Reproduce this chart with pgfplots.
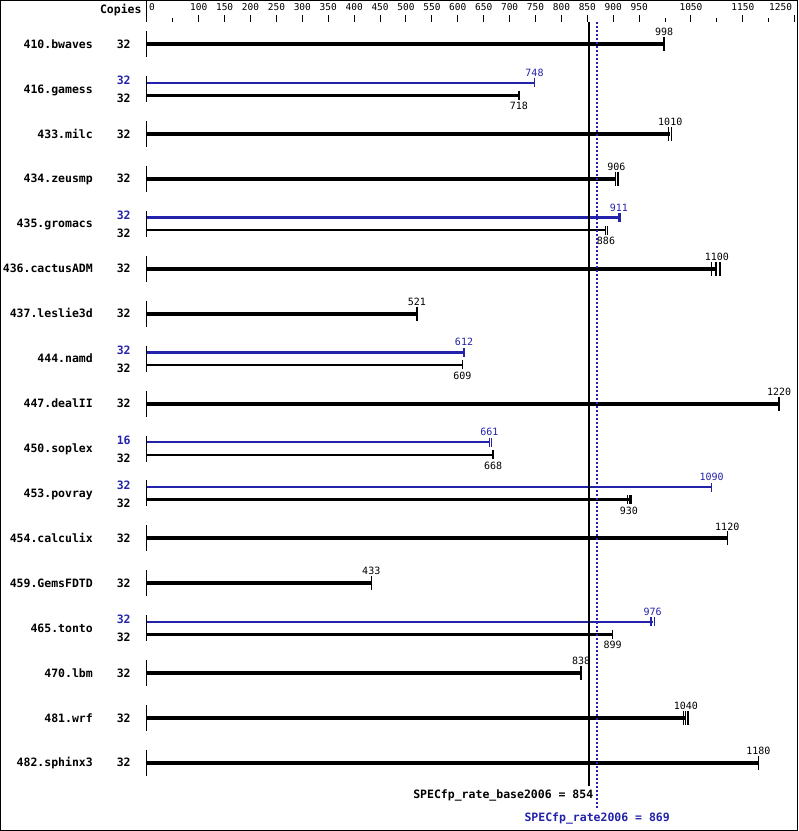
\documentclass[border=0pt]{standalone}
\usepackage{fontspec}
\setmainfont{DejaVu Sans}
\setmonofont{DejaVu Sans Mono}
\usepackage{pgfplots}
\pgfplotsset{compat=1.18}
\definecolor{peak}{RGB}{34,34,170}
\tikzset{
 nm/.style={anchor=base east, inner sep=0pt, font=\fontsize{11.5}{12}\selectfont\ttfamily\bfseries},
 vl/.style={inner sep=0pt, font=\fontsize{10}{10}\selectfont\ttfamily},
 tl/.style={inner sep=0pt, anchor=base, font=\fontsize{9.5}{10}\selectfont\ttfamily},
}
\pgfplotsset{
 sbar/.style={black, line width=4pt, no markers},
 bbar/.style={black, line width=2.5pt, no markers},
 pbar/.style={peak, line width=2.5pt, no markers},
 stk/.style={black, only marks, mark=|, mark size=7pt, mark options={line width=1.3pt}},
 btk/.style={black, only marks, mark=|, mark size=4.5pt, mark options={line width=1.3pt}},
 ptk/.style={peak, only marks, mark=|, mark size=4.5pt, mark options={line width=1.3pt}},
}
\begin{document}
\begin{tikzpicture}
\begin{axis}[
 scale only axis, width=648.1pt, height=807pt,
 xmin=0, xmax=1250, ymin=22, ymax=829, y dir=reverse,
 clip=false,
 axis x line*=top, axis y line=none,
 x axis line style={draw=none},
 ytick=\empty,
 xtick={100,150,200,250,300,350,400,450,500,550,600,650,700,750,800,850,900,950,1050,1150,1250},
 xticklabels={100,150,200,250,300,350,400,450,500,550,600,650,700,750,800,850,900,950,1050,1150,{}},
 extra x ticks={50,1000,1100,1200}, extra x tick labels={},
 extra x tick style={major tick length=4pt},
 tick align=outside,
 major tick length=7pt,
 xtick style={black, line width=1pt},
 xticklabel style={font=\fontsize{9.5}{10}\selectfont\ttfamily, anchor=base, yshift=4.5pt},
]
% frame and header
\coordinate (TL) at (axis cs:-283.5,0);
\coordinate (BR) at (axis cs:1257.4,831);
\draw[black, line width=1pt] (axis cs:-282.5,0.5) rectangle (axis cs:1256.4,830.5);
\draw[black, line width=1pt] (axis cs:0,0) -- (axis cs:0,22);
\node[tl, anchor=base west] at (axis cs:4,10) {0};
\node[tl] at (axis cs:1223,10) {1250};
\node[nm] at (axis cs:-10,13) {Copies};

% 410.bwaves
\draw[line width=1pt] (axis cs:0,30.7) -- (axis cs:0,56.7);
\addplot[sbar] coordinates {(0,43.7) (998,43.7)};
\addplot[stk] coordinates {(998,43.7)};
\node[vl] at (axis cs:998,31.7) {998};
\node[nm] at (axis cs:-104,47.7) {410.bwaves};
\node[nm] at (axis cs:-31,47.7) {32};

% 416.gamess
\draw[line width=1pt] (axis cs:0,75.7) -- (axis cs:0,101.7);
\addplot[pbar] coordinates {(0,82.4) (748,82.4)};
\addplot[ptk] coordinates {(748,82.4)};
\addplot[bbar] coordinates {(0,95.0) (718,95.0)};
\addplot[btk] coordinates {(718,95.0)};
\node[vl,peak] at (axis cs:748,72.2) {748};
\node[vl] at (axis cs:718,105.7) {718};
\node[nm] at (axis cs:-104,92.7) {416.gamess};
\node[nm,peak] at (axis cs:-31,84.4) {32};
\node[nm] at (axis cs:-31,102.4) {32};

% 433.milc
\draw[line width=1pt] (axis cs:0,120.6) -- (axis cs:0,146.6);
\addplot[sbar] coordinates {(0,133.6) (1010,133.6)};
\addplot[stk] coordinates {(1007,133.6) (1012,133.6)};
\node[vl] at (axis cs:1010,121.6) {1010};
\node[nm] at (axis cs:-104,137.6) {433.milc};
\node[nm] at (axis cs:-31,137.6) {32};

% 434.zeusmp
\draw[line width=1pt] (axis cs:0,165.6) -- (axis cs:0,191.6);
\addplot[sbar] coordinates {(0,178.6) (906,178.6)};
\addplot[stk] coordinates {(904,178.6) (909,178.6)};
\node[vl] at (axis cs:906,166.6) {906};
\node[nm] at (axis cs:-104,182.6) {434.zeusmp};
\node[nm] at (axis cs:-31,182.6) {32};

% 435.gromacs
\draw[line width=1pt] (axis cs:0,210.5) -- (axis cs:0,236.5);
\addplot[pbar] coordinates {(0,217.2) (911,217.2)};
\addplot[ptk] coordinates {(911,217.2) (914,217.2)};
\addplot[bbar] coordinates {(0,229.8) (886,229.8)};
\addplot[btk] coordinates {(885,229.8) (889,229.8)};
\node[vl,peak] at (axis cs:911,207) {911};
\node[vl] at (axis cs:886,240.5) {886};
\node[nm] at (axis cs:-104,227.5) {435.gromacs};
\node[nm,peak] at (axis cs:-31,219.2) {32};
\node[nm] at (axis cs:-31,237.2) {32};

% 436.cactusADM
\draw[line width=1pt] (axis cs:0,255.5) -- (axis cs:0,281.5);
\addplot[sbar] coordinates {(0,268.5) (1100,268.5)};
\addplot[stk] coordinates {(1090,268.5) (1098,268.5) (1106,268.5)};
\node[vl] at (axis cs:1100,256.5) {1100};
\node[nm] at (axis cs:-104,272.5) {436.cactusADM};
\node[nm] at (axis cs:-31,272.5) {32};

% 437.leslie3d
\draw[line width=1pt] (axis cs:0,300.4) -- (axis cs:0,326.4);
\addplot[sbar] coordinates {(0,313.4) (521,313.4)};
\addplot[stk] coordinates {(521,313.4)};
\node[vl] at (axis cs:521,301.4) {521};
\node[nm] at (axis cs:-104,317.4) {437.leslie3d};
\node[nm] at (axis cs:-31,317.4) {32};

% 444.namd
\draw[line width=1pt] (axis cs:0,345.4) -- (axis cs:0,371.4);
\addplot[pbar] coordinates {(0,352.1) (612,352.1)};
\addplot[ptk] coordinates {(612,352.1)};
\addplot[bbar] coordinates {(0,364.7) (609,364.7)};
\addplot[btk] coordinates {(609,364.7)};
\node[vl,peak] at (axis cs:612,341.9) {612};
\node[vl] at (axis cs:609,375.4) {609};
\node[nm] at (axis cs:-104,362.4) {444.namd};
\node[nm,peak] at (axis cs:-31,354.1) {32};
\node[nm] at (axis cs:-31,372.1) {32};

% 447.dealII
\draw[line width=1pt] (axis cs:0,390.3) -- (axis cs:0,416.3);
\addplot[sbar] coordinates {(0,403.3) (1220,403.3)};
\addplot[stk] coordinates {(1220,403.3)};
\node[vl] at (axis cs:1220,391.3) {1220};
\node[nm] at (axis cs:-104,407.3) {447.dealII};
\node[nm] at (axis cs:-31,407.3) {32};

% 450.soplex
\draw[line width=1pt] (axis cs:0,435.3) -- (axis cs:0,461.3);
\addplot[pbar] coordinates {(0,442.0) (661,442.0)};
\addplot[ptk] coordinates {(661,442.0) (665,442.0)};
\addplot[bbar] coordinates {(0,454.6) (668,454.6)};
\addplot[btk] coordinates {(668,454.6)};
\node[vl,peak] at (axis cs:661,431.8) {661};
\node[vl] at (axis cs:668,465.3) {668};
\node[nm] at (axis cs:-104,452.3) {450.soplex};
\node[nm,peak] at (axis cs:-31,444.0) {16};
\node[nm] at (axis cs:-31,462.0) {32};

% 453.povray
\draw[line width=1pt] (axis cs:0,480.2) -- (axis cs:0,506.2);
\addplot[pbar] coordinates {(0,486.9) (1090,486.9)};
\addplot[ptk] coordinates {(1090,486.9)};
\addplot[bbar] coordinates {(0,499.5) (930,499.5)};
\addplot[btk] coordinates {(927,499.5) (931,499.5) (934,499.5)};
\node[vl,peak] at (axis cs:1090,476.7) {1090};
\node[vl] at (axis cs:930,510.2) {930};
\node[nm] at (axis cs:-104,497.2) {453.povray};
\node[nm,peak] at (axis cs:-31,488.9) {32};
\node[nm] at (axis cs:-31,506.9) {32};

% 454.calculix
\draw[line width=1pt] (axis cs:0,525.2) -- (axis cs:0,551.2);
\addplot[sbar] coordinates {(0,538.2) (1120,538.2)};
\addplot[stk] coordinates {(1120,538.2)};
\node[vl] at (axis cs:1120,526.2) {1120};
\node[nm] at (axis cs:-104,542.2) {454.calculix};
\node[nm] at (axis cs:-31,542.2) {32};

% 459.GemsFDTD
\draw[line width=1pt] (axis cs:0,570.1) -- (axis cs:0,596.1);
\addplot[sbar] coordinates {(0,583.1) (433,583.1)};
\addplot[stk] coordinates {(433,583.1)};
\node[vl] at (axis cs:433,571.1) {433};
\node[nm] at (axis cs:-104,587.1) {459.GemsFDTD};
\node[nm] at (axis cs:-31,587.1) {32};

% 465.tonto
\draw[line width=1pt] (axis cs:0,615.1) -- (axis cs:0,641.1);
\addplot[pbar] coordinates {(0,621.8) (976,621.8)};
\addplot[ptk] coordinates {(973,621.8) (980,621.8)};
\addplot[bbar] coordinates {(0,634.4) (899,634.4)};
\addplot[btk] coordinates {(899,634.4)};
\node[vl,peak] at (axis cs:976,611.6) {976};
\node[vl] at (axis cs:899,645.1) {899};
\node[nm] at (axis cs:-104,632.1) {465.tonto};
\node[nm,peak] at (axis cs:-31,623.8) {32};
\node[nm] at (axis cs:-31,641.8) {32};

% 470.lbm
\draw[line width=1pt] (axis cs:0,660) -- (axis cs:0,686);
\addplot[sbar] coordinates {(0,673) (838,673)};
\addplot[stk] coordinates {(838,673)};
\node[vl] at (axis cs:838,661) {838};
\node[nm] at (axis cs:-104,677) {470.lbm};
\node[nm] at (axis cs:-31,677) {32};

% 481.wrf
\draw[line width=1pt] (axis cs:0,705) -- (axis cs:0,731);
\addplot[sbar] coordinates {(0,718) (1040,718)};
\addplot[stk] coordinates {(1036,718) (1040,718) (1044,718)};
\node[vl] at (axis cs:1040,706) {1040};
\node[nm] at (axis cs:-104,722) {481.wrf};
\node[nm] at (axis cs:-31,722) {32};

% 482.sphinx3
\draw[line width=1pt] (axis cs:0,749.9) -- (axis cs:0,775.9);
\addplot[sbar] coordinates {(0,762.9) (1180,762.9)};
\addplot[stk] coordinates {(1180,762.9)};
\node[vl] at (axis cs:1180,750.9) {1180};
\node[nm] at (axis cs:-104,766.9) {482.sphinx3};
\node[nm] at (axis cs:-31,766.9) {32};

% overall lines
\addplot[black, line width=2pt, no markers] coordinates {(854,22) (854,786)};
\addplot[peak, line width=2pt, dash pattern=on 2pt off 2pt, no markers] coordinates {(869,22) (869,808)};
\node[nm, xshift=4pt] at (axis cs:854,798.5) {SPECfp\_rate\_base2006 = 854};
\node[nm, anchor=base, peak] at (axis cs:869,821) {SPECfp\_rate2006 = 869};
\end{axis}
\useasboundingbox (TL) rectangle (BR);
\end{tikzpicture}
\end{document}
